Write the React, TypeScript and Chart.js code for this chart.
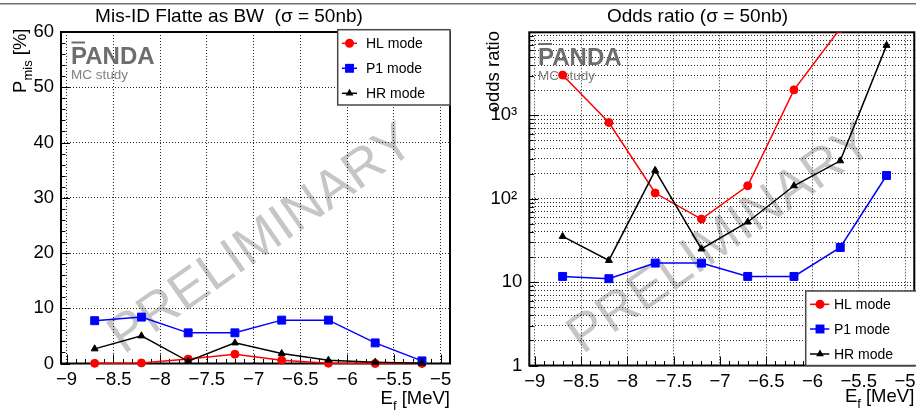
import { useEffect, useRef } from "react";
import { Chart, registerables } from "chart.js";

Chart.register(...registerables);

// ---------------- data ----------------
const energies = [-8.7, -8.2, -7.7, -7.2, -6.7, -6.2, -5.7, -5.2];
const seriesLabels = ["HL mode", "P1 mode", "HR mode"];

// Mis-ID probability P_mis [%]
const misIdHL = [0.03, 0.1, 0.8, 1.68, 0.6, 0.05, 0.01, 0.005];
const misIdP1 = [7.75, 8.4, 5.55, 5.55, 7.85, 7.85, 3.73, 0.47];
const misIdHR = [2.65, 5.0, 0.4, 3.73, 1.8, 0.6, 0.24, 0.05];

// Odds ratio
const oddsHL = [3040, 820, 117, 57, 143, 2020, 11000, 40000];
const oddsP1 = [11.7, 11.0, 16.9, 16.9, 11.7, 11.7, 26, 190];
const oddsHR = [35.3, 18.2, 219, 25, 52.6, 143, 285, 6900];

const xTickValues = [-9, -8.5, -8, -7.5, -7, -6.5, -6, -5.5, -5];
const misIdTickValues = [0, 10, 20, 30, 40, 50, 60];
const oddsDecades = [1, 10, 100, 1000];
const oddsDecadeLabels = ["1", "10", "10\u00B2 ", "10\u00B3 "];

const leftTitle = "Mis-ID Flatte as BW  (\u03C3 = 50nb)";
const rightTitle = "Odds ratio (\u03C3 = 50nb)";

// ---------------- styling ----------------
const FONT = '"Liberation Sans", Arial, Helvetica, sans-serif';
const COLORS = ["#ff0000", "#0000ff", "#000000"];
const STYLES = ["circle", "rect", "triangle"];
const RADII = [4, 5.6, 4];
const X_MIN = -9.06;
const X_MAX = -4.9;
const P_MAX = 60;
const ODDS_MIN = 1;
const ODDS_MAX = 9900;

type Part = { t: string; sub?: boolean };
type Tick = { v: number; major: boolean };
type Spec = {
  id: string;
  W: number;
  H: number;
  area: { left: number; right: number; top: number; bottom: number };
  title: string;
  titleX: number;
  yTitle: Part[];
  yTitleX: number;
  yTitleEnd: number;
  xTitle: Part[];
  xTitleBase: number;
  logoX: number;
  logoBase: number;
  wmX: number;
  wmY: number;
  legend: { x: number; y: number; w: number; h: number; l0: number; l1: number; mx: number; tx: number; rows: number[] };
  yTicks: Tick[];
};

function xMinorTicks(): Tick[] {
  const out: Tick[] = [];
  for (let k = -91; k <= -48; k++) {
    const v = k / 10;
    if (v >= X_MIN && v <= X_MAX) out.push({ v, major: k % 5 === 0 });
  }
  return out;
}

function linearYTicks(): Tick[] {
  const out: Tick[] = [];
  for (let v = 0; v <= P_MAX; v += 2) out.push({ v, major: v % 10 === 0 });
  return out;
}

function logYValues(): number[] {
  const out: number[] = [];
  for (const d of oddsDecades) for (let k = 1; k <= 9; k++) if (k * d <= ODDS_MAX) out.push(k * d);
  return out;
}

function logYTicks(): Tick[] {
  const out: Tick[] = [];
  for (const d of oddsDecades) for (let k = 1; k <= 9; k++) if (k * d <= ODDS_MAX) out.push({ v: k * d, major: k === 1 });
  return out;
}

const MAIN = 18.5;
const SUB = 13;
const SUBSHIFT = 6;

function measureParts(ctx: CanvasRenderingContext2D, parts: Part[]) {
  let w = 0;
  for (const p of parts) {
    ctx.font = `${p.sub ? SUB : MAIN}px ${FONT}`;
    w += ctx.measureText(p.t).width;
  }
  return w;
}

function drawParts(ctx: CanvasRenderingContext2D, parts: Part[], x: number, y: number) {
  let cx = x;
  ctx.textAlign = "left";
  ctx.textBaseline = "alphabetic";
  for (const p of parts) {
    ctx.font = `${p.sub ? SUB : MAIN}px ${FONT}`;
    ctx.fillText(p.t, cx, y + (p.sub ? SUBSHIFT : 0));
    cx += ctx.measureText(p.t).width;
  }
}

function drawMarker(ctx: CanvasRenderingContext2D, style: string, x: number, y: number, r: number, color: string) {
  ctx.save();
  ctx.fillStyle = color;
  ctx.beginPath();
  if (style === "circle") {
    ctx.arc(x, y, r + 0.5, 0, Math.PI * 2);
  } else if (style === "rect") {
    const s = Math.SQRT1_2 * r + 0.5;
    ctx.rect(x - s, y - s, 2 * s, 2 * s);
  } else {
    const rr = r + 0.5;
    ctx.moveTo(x, y - rr);
    ctx.lineTo(x + 0.866 * rr, y + 0.5 * rr);
    ctx.lineTo(x - 0.866 * rr, y + 0.5 * rr);
    ctx.closePath();
  }
  ctx.fill();
  ctx.restore();
}

function panelPlugin(spec: Spec) {
  return {
    id: "panel_" + spec.id,
    beforeDraw(chart: any) {
      const ctx: CanvasRenderingContext2D = chart.ctx;
      ctx.save();
      ctx.fillStyle = "#ffffff";
      ctx.fillRect(0, 0, spec.W, spec.H);
      ctx.fillStyle = "#707070";
      ctx.fillRect(0, 3, spec.W, 1.5);
      ctx.translate(spec.wmX, spec.wmY);
      ctx.rotate((-35 * Math.PI) / 180);
      ctx.font = `53px ${FONT}`;
      ctx.fillStyle = "#c6c6c6";
      ctx.textAlign = "center";
      ctx.textBaseline = "middle";
      ctx.fillText("PRELIMINARY", 0, 0);
      ctx.restore();
    },
    beforeDatasetsDraw(chart: any) {
      const ctx: CanvasRenderingContext2D = chart.ctx;
      const a = chart.chartArea;
      const xs = chart.scales.x;
      const ys = chart.scales.y;
      ctx.save();
      // logo
      ctx.fillStyle = "#6e6e6e";
      ctx.font = `bold 24px ${FONT}`;
      ctx.textAlign = "left";
      ctx.textBaseline = "alphabetic";
      ctx.fillText("PANDA", spec.logoX, spec.logoBase);
      const pw = ctx.measureText("P").width;
      ctx.fillRect(spec.logoX + 0.5, spec.logoBase - 22, pw - 2.5, 2);
      ctx.fillStyle = "#808080";
      ctx.font = `13.5px ${FONT}`;
      ctx.fillText("MC study", spec.logoX, spec.logoBase + 15);
      // frame
      ctx.strokeStyle = "#000";
      ctx.lineWidth = 2;
      ctx.strokeRect(a.left, a.top, a.right - a.left, a.bottom - a.top);
      // ticks
      ctx.lineWidth = 1;
      ctx.beginPath();
      for (const t of xMinorTicks()) {
        const px = Math.round(xs.getPixelForValue(t.v)) + 0.5;
        ctx.moveTo(px, a.bottom);
        ctx.lineTo(px, a.bottom - (t.major ? 9 : 4.5));
      }
      for (const t of spec.yTicks) {
        const py = Math.round(ys.getPixelForValue(t.v)) + 0.5;
        ctx.moveTo(a.left, py);
        ctx.lineTo(a.left + (t.major ? 9 : 4.5), py);
      }
      ctx.stroke();
      ctx.restore();
    },
    afterDatasetsDraw(chart: any) {
      const ctx: CanvasRenderingContext2D = chart.ctx;
      const L = spec.legend;
      ctx.save();
      ctx.fillStyle = "#ffffff";
      ctx.fillRect(L.x, L.y, L.w, L.h);
      ctx.strokeStyle = "#474747";
      ctx.lineWidth = 1.5;
      ctx.strokeRect(L.x, L.y, L.w, L.h);
      ctx.font = `14px ${FONT}`;
      ctx.textAlign = "left";
      ctx.textBaseline = "middle";
      seriesLabels.forEach((lab, i) => {
        const y = L.rows[i];
        ctx.strokeStyle = COLORS[i];
        ctx.lineWidth = 1.5;
        ctx.beginPath();
        ctx.moveTo(L.l0, y);
        ctx.lineTo(L.l1, y);
        ctx.stroke();
        drawMarker(ctx, STYLES[i], L.mx, y, RADII[i], COLORS[i]);
        ctx.fillStyle = "#000";
        ctx.fillText(lab, L.tx, y + 1);
      });
      ctx.restore();
    },
    afterDraw(chart: any) {
      const ctx: CanvasRenderingContext2D = chart.ctx;
      const a = chart.chartArea;
      ctx.save();
      ctx.fillStyle = "#000";
      ctx.font = `19px ${FONT}`;
      ctx.textAlign = "center";
      ctx.textBaseline = "alphabetic";
      ctx.fillText(spec.title, spec.titleX, 22);
      // x title, right aligned to frame
      const xw = measureParts(ctx, spec.xTitle);
      drawParts(ctx, spec.xTitle, a.right - xw, spec.xTitleBase);
      // y title, rotated, ending at top
      const yw = measureParts(ctx, spec.yTitle);
      ctx.translate(spec.yTitleX, spec.yTitleEnd + yw);
      ctx.rotate(-Math.PI / 2);
      drawParts(ctx, spec.yTitle, 0, 0);
      ctx.restore();
    },
  };
}

const tickFont = { family: FONT, size: 18.5 };
const fmtX = (v: number) => (v < 0 ? "\u2212" + String(Math.abs(v)) : String(v));

function makeConfig(spec: Spec, values: number[][], log: boolean): any {
  const datasets = values.map((vals, i) => ({
    label: seriesLabels[i],
    data: energies.map((x, j) => ({ x, y: vals[j] })),
    borderColor: COLORS[i],
    backgroundColor: COLORS[i],
    pointBackgroundColor: COLORS[i],
    pointBorderColor: COLORS[i],
    pointStyle: STYLES[i],
    pointRadius: RADII[i],
    pointBorderWidth: 1,
    borderWidth: 1.5,
    tension: 0,
    fill: false,
    order: 3 - i,
    clip: log ? 0 : false,
  }));
  const grid = { color: "rgba(0,0,0,0.85)", lineWidth: 1, drawTicks: false };
  const border = { display: false, dash: [1, 2] };
  const yScale = log
    ? {
        type: "logarithmic",
        min: ODDS_MIN,
        max: ODDS_MAX,
        afterBuildTicks: (s: any) => {
          s.ticks = logYValues().map((v) => ({ value: v }));
        },
        afterFit: (s: any) => {
          s.width = spec.area.left;
        },
        ticks: {
          autoSkip: false,
          padding: 7,
          color: "#000",
          font: tickFont,
          callback: (v: any) => {
            const i = oddsDecades.indexOf(Number(v));
            return i >= 0 ? oddsDecadeLabels[i] : "";
          },
        },
        grid,
        border,
      }
    : {
        type: "linear",
        min: 0,
        max: P_MAX,
        afterBuildTicks: (s: any) => {
          s.ticks = misIdTickValues.map((v) => ({ value: v }));
        },
        afterFit: (s: any) => {
          s.width = spec.area.left;
        },
        ticks: { autoSkip: false, padding: 7, color: "#000", font: tickFont, callback: (v: any) => String(v) },
        grid,
        border,
      };
  return {
    type: "line",
    data: { datasets },
    options: {
      responsive: false,
      maintainAspectRatio: false,
      animation: false,
      events: [],
      layout: {
        padding: { left: 0, right: spec.W - spec.area.right, top: spec.area.top, bottom: 0 },
      },
      plugins: {
        legend: { display: false },
        title: { display: false },
        tooltip: { enabled: false },
      },
      scales: {
        x: {
          type: "linear",
          position: "bottom",
          min: X_MIN,
          max: X_MAX,
          afterBuildTicks: (s: any) => {
            s.ticks = xTickValues.map((v) => ({ value: v }));
          },
          afterFit: (s: any) => {
            s.height = spec.H - spec.area.bottom;
          },
          ticks: {
            autoSkip: false,
            maxRotation: 0,
            minRotation: 0,
            padding: 5,
            color: "#000",
            font: tickFont,
            callback: (v: any) => fmtX(Number(v)),
          },
          grid,
          border,
        },
        y: yScale,
      },
    },
    plugins: [panelPlugin(spec)],
  };
}

const leftSpec: Spec = {
  id: "mis",
  W: 458,
  H: 412,
  area: { left: 61, right: 450, top: 32, bottom: 363.5 },
  title: leftTitle,
  titleX: 229,
  yTitle: [{ t: "P" }, { t: "mis", sub: true }, { t: " [%]" }],
  yTitleX: 25.5,
  yTitleEnd: 28.5,
  xTitle: [{ t: "E" }, { t: "f", sub: true }, { t: " [MeV]" }],
  xTitleBase: 404,
  logoX: 71,
  logoBase: 63.5,
  wmX: 262,
  wmY: 240,
  legend: { x: 337.7, y: 29.7, w: 112.3, h: 75.3, l0: 342, l1: 357, mx: 349.5, tx: 366, rows: [43.3, 68.3, 93.3] },
  yTicks: linearYTicks(),
};

const rightSpec: Spec = {
  id: "odds",
  W: 479,
  H: 412,
  area: { left: 71.3, right: 456.3, top: 32.3, bottom: 365.5 },
  title: rightTitle,
  titleX: 239.5,
  yTitle: [{ t: "odds ratio" }],
  yTitleX: 40.5,
  yTitleEnd: 31,
  xTitle: [{ t: "E" }, { t: "f", sub: true }, { t: " [MeV]" }],
  xTitleBase: 402,
  logoX: 80,
  logoBase: 65,
  wmX: 263,
  wmY: 240,
  legend: { x: 347.7, y: 291, w: 125, h: 74.5, l0: 352, l1: 371.3, mx: 362, tx: 376, rows: [304.3, 329, 354] },
  yTicks: logYTicks(),
};

export default function App() {
  const leftRef = useRef<HTMLCanvasElement>(null);
  const rightRef = useRef<HTMLCanvasElement>(null);
  useEffect(() => {
    const c1 = new Chart(leftRef.current as HTMLCanvasElement, makeConfig(leftSpec, [misIdHL, misIdP1, misIdHR], false));
    const c2 = new Chart(rightRef.current as HTMLCanvasElement, makeConfig(rightSpec, [oddsHL, oddsP1, oddsHR], true));
    return () => {
      c1.destroy();
      c2.destroy();
    };
  }, []);
  return (
    <div
      style={{
        position: "fixed",
        left: 0,
        top: 0,
        width: 916,
        height: 412,
        overflow: "hidden",
        background: "#ffffff",
      }}
    >
      <canvas
        ref={leftRef}
        width={458}
        height={412}
        style={{ position: "absolute", left: 0, top: 0, width: 458, height: 412 }}
      />
      <canvas
        ref={rightRef}
        width={479}
        height={412}
        style={{ position: "absolute", left: 458, top: 0, width: 479, height: 412 }}
      />
    </div>
  );
}
